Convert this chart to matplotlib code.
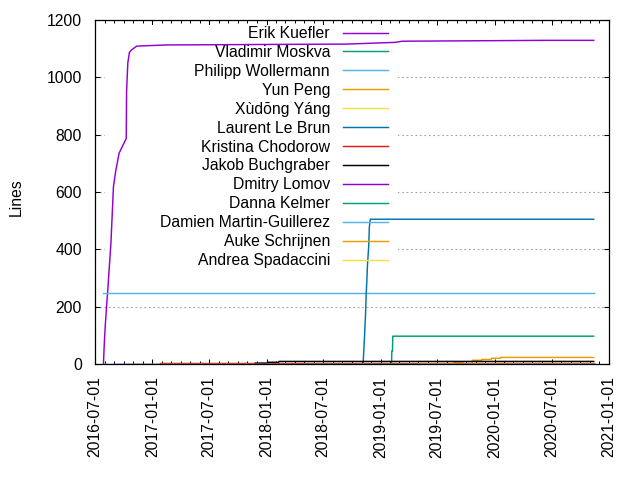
import matplotlib
matplotlib.use('Agg')
import matplotlib.pyplot as plt
import matplotlib.dates as mdates
from matplotlib.patches import Rectangle
import numpy as np

plt.rcParams['font.family'] = ['Liberation Sans', 'DejaVu Sans']
plt.rcParams['font.size'] = 11.3

# gnuplot default line colours
colors = ['#9400d3', '#009e73', '#56b4e9', '#e69f00', '#f0e442', '#0072b2', '#e51e10', '#000000']

names = ['Erik Kuefler', 'Vladimir Moskva', 'Philipp Wollermann', 'Yun Peng', 'Xùdōng Yáng',
         'Laurent Le Brun', 'Kristina Chodorow', 'Jakob Buchgraber', 'Dmitry Lomov',
         'Danna Kelmer', 'Damien Martin-Guillerez', 'Auke Schrijnen', 'Andrea Spadaccini']

erik_dates = ['2016-07-28', '2016-07-31', '2016-08-03', '2016-08-08', '2016-08-11', '2016-08-13',
              '2016-08-21', '2016-08-29', '2016-09-05', '2016-09-16', '2016-10-09', '2016-10-10',
              '2016-10-14', '2016-10-19', '2016-10-25', '2016-11-12', '2017-02-16', '2018-09-16',
              '2019-02-17', '2019-03-11', '2020-06-11', '2020-11-13']
erik_lines = [0, 78, 136, 217, 258, 293, 422, 618, 671, 735, 787, 950,
              1050, 1086, 1095, 1109, 1113, 1116, 1122, 1126, 1129, 1129]

vladimir_dates = ['2019-02-05', '2019-02-06', '2019-02-08', '2019-02-09', '2020-11-13']
vladimir_lines = [3, 45, 45, 97, 97]

philipp_dates = ['2016-07-26', '2020-11-13']
philipp_lines = [247, 247]

yun_dates = ['2019-08-24', '2019-09-21', '2019-09-22', '2019-10-21', '2019-10-22', '2019-11-20',
             '2019-11-21', '2019-12-21', '2019-12-22', '2020-01-19', '2020-01-20', '2020-11-13']
yun_lines = [6, 6, 1, 1, 13, 13, 16, 16, 20, 20, 23, 23]

xudong_dates = ['2017-03-01', '2020-11-13']
xudong_lines = [0, 0]

laurent_dates = ['2018-11-06', '2018-11-10', '2018-11-14', '2018-11-16', '2018-11-18', '2018-11-20',
                 '2018-11-24', '2018-11-26', '2018-11-29', '2020-11-13']
laurent_lines = [0, 84, 178, 247, 290, 345, 412, 477, 505, 505]

kristina_dates = ['2017-01-26', '2020-11-13']
kristina_lines = [3, 3]

jakob_dates = ['2017-11-26', '2018-01-03', '2018-01-04', '2018-02-09', '2018-02-10', '2020-11-13']
jakob_lines = [3, 3, 6, 6, 9, 9]

dmitry_dates = ['2016-09-01', '2020-11-13']
dmitry_lines = [0, 0]

danna_dates = ['2018-05-01', '2020-11-13']
danna_lines = [0, 0]

damien_dates = ['2016-08-01', '2020-11-13']
damien_lines = [0, 0]

auke_dates = ['2016-10-11', '2020-11-13']
auke_lines = [1, 1]

andrea_dates = ['2019-05-01', '2020-11-13']
andrea_lines = [0, 0]

all_dates = [erik_dates, vladimir_dates, philipp_dates, yun_dates, xudong_dates, laurent_dates,
             kristina_dates, jakob_dates, dmitry_dates, danna_dates, damien_dates, auke_dates,
             andrea_dates]
all_lines = [erik_lines, vladimir_lines, philipp_lines, yun_lines, xudong_lines, laurent_lines,
             kristina_lines, jakob_lines, dmitry_lines, danna_lines, damien_lines, auke_lines,
             andrea_lines]

fig = plt.figure(figsize=(6.4, 4.8), dpi=100)
ax = fig.add_axes([95/640, 116/480, 514/640, 344/480])

for i in range(len(names)):
    d = np.array(all_dates[i], dtype='datetime64[D]')
    ax.plot(d, all_lines[i], color=colors[i % 8], lw=1.05, label=names[i], zorder=2)

ax.set_xlim(np.datetime64('2016-07-01'), np.datetime64('2021-01-01'))
ax.set_ylim(0, 1200)
ax.set_yticks([0, 200, 400, 600, 800, 1000, 1200])

ax.xaxis.set_major_locator(mdates.MonthLocator(bymonth=[1, 7]))
ax.xaxis.set_minor_locator(mdates.MonthLocator())
ax.xaxis.set_major_formatter(mdates.DateFormatter('%Y-%m-%d'))
plt.setp(ax.get_xticklabels(), rotation=90, ha='center')

ax.tick_params(which='both', direction='in', top=True, right=True, width=0.75)
ax.tick_params(which='major', length=3.6)
ax.tick_params(which='minor', length=2.2)
ax.tick_params(axis='x', pad=9)
ax.tick_params(axis='y', pad=9.5)
for s in ax.spines.values():
    s.set_linewidth(0.9)

ax.grid(axis='y', color='#a0a0a0', linestyle=(0, (1.5, 2.5)), linewidth=0.8)
ax.set_axisbelow('line')

# gnuplot hides the grid behind the key area
ax.add_patch(Rectangle((0.0195, 0.25), 0.57, 0.735, transform=ax.transAxes,
                       facecolor='white', edgecolor='none', zorder=1.7))

ax.set_ylabel('Lines')
ax.yaxis.set_label_coords(-0.138, 0.485)

leg = ax.legend(loc='upper right', bbox_to_anchor=(388/640, 1 - 26/480),
                bbox_transform=fig.transFigure, frameon=False, markerfirst=False,
                handlelength=2.84, handletextpad=0.85, labelspacing=0.25,
                borderpad=0, borderaxespad=0)
for col in leg._legend_handle_box.get_children():
    col.align = 'right'

plt.savefig('out.png', dpi=100)
